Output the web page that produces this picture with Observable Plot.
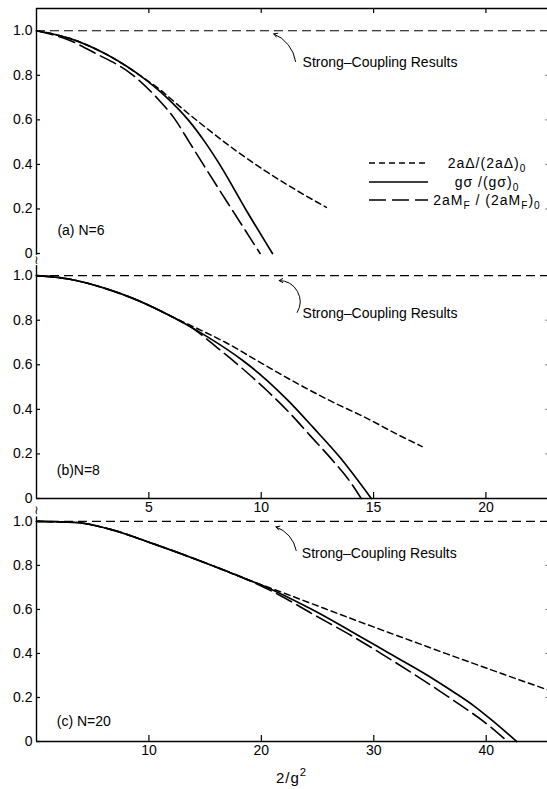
<!DOCTYPE html>
<html><head><meta charset="utf-8">
<script src="https://cdn.jsdelivr.net/npm/d3@7"></script>
<script src="https://cdn.jsdelivr.net/npm/@observablehq/plot@0.6"></script>
<style>
body{margin:0;background:#fff;}
#wrap{position:relative;width:547px;height:789px;overflow:hidden;background:#fff;font-family:"Liberation Sans",Arial,sans-serif;color:#000;}
.panel{position:absolute;left:0;}
.panel svg{overflow:visible;}
.leg{position:absolute;left:368px;height:18px;display:flex;align-items:center;font-size:14px;}
.leg svg{display:block}
.leg span{display:inline-block;width:118px;text-align:center;margin-left:0px;white-space:nowrap;letter-spacing:1px}
.leg sub{font-size:72%;vertical-align:-0.35em;line-height:0}
#xlab{position:absolute;left:36px;width:511px;text-align:center;top:769px;font-size:15px;letter-spacing:1px}
#xlab sup{font-size:75%;vertical-align:0.6em;line-height:0}
</style></head><body>
<div id="wrap">
  <div id="pa" class="panel" style="top:0px"></div>
  <div id="pb" class="panel" style="top:262px"></div>
  <div id="pc" class="panel" style="top:509px"></div>
  <div id="legend"></div>
  <div id="xlab">2/g<sup>2</sup></div>
</div>
<script>
// ---------- tick values / labels ----------
const xTicksAB = [5, 10, 15, 20];
const xTicksC = [10, 20, 30, 40];
const yTicks = [0, 0.2, 0.4, 0.6, 0.8, 1.0];
const yTickLabels = ["0", "0.2", "0.4", "0.6", "0.8", "1.0"];
const strongCoupling = [1.0];

// ---------- panel (a) N=6 ----------
const a_x_gs  = [0, 1.5, 3.0, 4.6, 5.8, 6.75, 7.5, 8.15, 9.3, 10.5];
const a_y_gs  = [1, 0.965, 0.9, 0.8, 0.7, 0.6, 0.5, 0.4, 0.2, 0];
const a_x_mf  = [0, 1.4, 2.6, 4.3, 5.35, 6.18, 6.8, 7.42, 8.68, 9.95];
const a_y_mf  = [1, 0.96, 0.9, 0.8, 0.7, 0.6, 0.5, 0.4, 0.2, 0];
const a_x_gap = [0, 1.5, 3.0, 4.6, 5.5, 6.4, 7.6, 8.9, 10.1, 11.5, 12.9];
const a_y_gap = [1, 0.965, 0.9, 0.8, 0.735, 0.658, 0.56, 0.46, 0.376, 0.288, 0.207];

// ---------- panel (b) N=8 ----------
const b_x_gs  = [0, 1.43, 2.98, 4.53, 6.08, 7.63, 9.18, 10.1, 11.2, 12.3, 13.5, 14.9];
const b_y_gs  = [1, 0.985, 0.945, 0.888, 0.813, 0.724, 0.619, 0.544, 0.439, 0.32, 0.185, 0];
const b_x_mf  = [0, 1.43, 2.98, 4.53, 6.08, 7.0, 8.0, 9.2, 10.3, 11.3, 12.2, 13.1, 13.85, 14.45];
const b_y_mf  = [1, 0.985, 0.945, 0.888, 0.813, 0.76, 0.68, 0.58, 0.48, 0.38, 0.28, 0.18, 0.09, 0];
const b_x_gap = [0, 1.43, 2.98, 4.53, 6.08, 7.0, 8.4, 9.95, 11.5, 13.06, 14.6, 16.15, 17.16];
const b_y_gap = [1, 0.985, 0.945, 0.888, 0.813, 0.77, 0.701, 0.611, 0.522, 0.439, 0.365, 0.283, 0.233];

// ---------- panel (c) N=20 ----------
const c_x_gs  = [0, 3.5, 6.5, 10.3, 15.6, 18.5, 20.5, 24.6, 28.0, 31.4, 34.8, 37.0, 38.9, 40.5, 42.7];
const c_y_gs  = [1, 0.995, 0.965, 0.9, 0.8, 0.741, 0.7, 0.597, 0.5, 0.4, 0.3, 0.228, 0.162, 0.097, 0];
const c_x_mf  = [0, 3.5, 6.5, 10.3, 15.6, 18.5, 21.5, 24.6, 27.7, 30.8, 33.9, 37.0, 40.3, 41.9];
const c_y_mf  = [1, 0.995, 0.965, 0.9, 0.8, 0.741, 0.668, 0.578, 0.49, 0.395, 0.295, 0.19, 0.07, 0];
const c_x_gap = [0, 3.5, 6.5, 10.3, 15.6, 18.5, 21.5, 24.6, 27.7, 30.8, 33.9, 36.5, 39.5, 42.5, 45.45];
const c_y_gap = [1, 0.995, 0.965, 0.9, 0.8, 0.741, 0.684, 0.624, 0.564, 0.505, 0.447, 0.398, 0.343, 0.288, 0.235];

// ---------- annotations ----------
const noteText = "Strong–Coupling Results";
const panelLabels = ["(a) N=6", "(b)N=8", "(c) N=20"];

// ---------- styles ----------
const FONT = "'Liberation Sans', Arial, sans-serif";
const styles = {
  gap: {strokeDasharray: "6,4", strokeWidth: 1.5},
  gs:  {strokeDasharray: null, strokeWidth: 1.7},
  mf:  {strokeDasharray: "17,6", strokeWidth: 1.6}
};
const scDash = "9,5";

const zip = (xs, ys) => xs.map((x, i) => ({x, y: ys[i]}));

function makePanel(cfg) {
  const {xMax, yMax, height, mTop, mBottom, bottomTicks, topFrame,
         curves, label, note, breakY, axisTop, axisBottom} = cfg;
  const plotH = height - mTop - mBottom;
  const kx = xMax / 511, ky = yMax / plotH;
  const marks = [];
  // left axis line
  marks.push(Plot.ruleX([0], {y1: axisBottom, y2: axisTop, strokeWidth: 1.4}));
  // y ticks (pointing inward)
  marks.push(Plot.ruleY(yTicks, {x1: 0, x2: 4 * kx, strokeWidth: 1.2}));
  // faint right-frame ticks at the cut edge
  marks.push(Plot.ruleY(yTicks.filter(d => d > 0 && d < 1), {x1: xMax - 2 * kx, x2: xMax, stroke: "#888", strokeWidth: 1}));
  if (topFrame) {
    marks.push(Plot.ruleY([yMax], {strokeWidth: 1.3}));
    marks.push(Plot.ruleX(xTicksAB, {y1: yMax, y2: yMax - 5 * ky, strokeWidth: 1.2}));
  }
  if (bottomTicks) {
    marks.push(Plot.ruleY([0], {strokeWidth: 1.4}));
    marks.push(Plot.ruleX(bottomTicks, {y1: 0, y2: 6 * ky, strokeWidth: 1.2}));
  }
  // strong-coupling line
  marks.push(Plot.ruleY(strongCoupling, {strokeDasharray: scDash, strokeWidth: 1.2}));
  // curves
  for (const [key, data] of Object.entries(curves)) {
    marks.push(Plot.line(data, {x: "x", y: "y", curve: "monotone-x", stroke: "black", ...styles[key]}));
  }
  // axis break mark
  if (breakY != null) {
    marks.push(Plot.text([{x: 0, y: breakY}], {x: "x", y: "y", text: () => "≀", fontSize: 12, fontFamily: "DejaVu Sans", fill: "black"}));
  }
  // label
  marks.push(Plot.text([label], {x: "x", y: "y", text: "text", textAnchor: "start", fontSize: 14, style: "letter-spacing:1px"}));
  // annotation
  marks.push(Plot.arrow([note], {x1: "x1", y1: "y1", x2: "x2", y2: "y2", bend: note.bend, headLength: 6, strokeWidth: 1}));
  marks.push(Plot.text([note], {x: "tx", y: "ty", text: () => noteText, textAnchor: "start", fontSize: 14}));

  return Plot.plot({
    width: 547, height,
    marginLeft: 36, marginRight: 0, marginTop: mTop, marginBottom: mBottom,
    x: {domain: [0, xMax], ticks: bottomTicks || [], tickSize: 0, tickPadding: 4, label: null, axis: bottomTicks ? "bottom" : null},
    y: {domain: [0, yMax], ticks: yTicks, tickSize: 0, tickPadding: 4, label: null,
        tickFormat: d => yTickLabels[yTicks.indexOf(d)]},
    style: {fontFamily: FONT, fontSize: "14px", background: "transparent", overflow: "visible", color: "black"},
    marks
  });
}

document.getElementById("pa").append(makePanel({
  xMax: 22.74, yMax: 1.1, height: 262, mTop: 8, mBottom: 9,
  bottomTicks: null, topFrame: true,
  curves: {gap: zip(a_x_gap, a_y_gap), gs: zip(a_x_gs, a_y_gs), mf: zip(a_x_mf, a_y_mf)},
  label: {x: 0.93, y: 0.103, text: panelLabels[0]},
  note: {x1: 11.53, y1: 0.862, x2: 10.56, y2: 0.986, tx: 11.84, ty: 0.858, bend: -30},
  breakY: -0.03, axisTop: 1.1, axisBottom: -0.008
}));

document.getElementById("pb").append(makePanel({
  xMax: 22.74, yMax: 1.05, height: 256, mTop: 2, mBottom: 20,
  bottomTicks: xTicksAB, topFrame: false,
  curves: {gap: zip(b_x_gap, b_y_gap), gs: zip(b_x_gs, b_y_gs), mf: zip(b_x_mf, b_y_mf)},
  label: {x: 0.9, y: 0.126, text: panelLabels[1]},
  note: {x1: 11.6, y1: 0.835, x2: 10.8, y2: 0.978, tx: 11.84, ty: 0.83, bend: -60},
  breakY: null, axisTop: 1.045, axisBottom: 0
}));

document.getElementById("pc").append(makePanel({
  xMax: 45.45, yMax: 1.045, height: 280, mTop: 2, mBottom: 48,
  bottomTicks: xTicksC, topFrame: false,
  curves: {gap: zip(c_x_gap, c_y_gap), gs: zip(c_x_gs, c_y_gs), mf: zip(c_x_mf, c_y_mf)},
  label: {x: 1.8, y: 0.09, text: panelLabels[2]},
  note: {x1: 23.1, y1: 0.868, x2: 21.3, y2: 0.975, tx: 23.6, ty: 0.855, bend: -30},
  breakY: 1.05, axisTop: 1.02, axisBottom: 0
}));

// ---------- legend (panel a) ----------
const legendItems = [
  {key: "gap", html: "2aΔ/(2aΔ)<sub>0</sub>"},
  {key: "gs",  html: "gσ /(gσ)<sub>0</sub>"},
  {key: "mf",  html: "2aM<sub>F</sub> / (2aM<sub>F</sub>)<sub>0</sub>"}
];
const legendTops = [154, 173, 191];
const legend = document.getElementById("legend");
legendItems.forEach((it, i) => {
  const row = document.createElement("div");
  row.className = "leg";
  row.style.top = legendTops[i] + "px";
  const st = styles[it.key];
  row.innerHTML = `<svg width="60" height="18"><line x1="1" x2="60" y1="9" y2="9" stroke="black" stroke-width="${st.strokeWidth}" ${st.strokeDasharray ? `stroke-dasharray="${st.strokeDasharray}"` : ""}/></svg><span>${it.html}</span>`;
  legend.append(row);
});
</script>
</body></html>
